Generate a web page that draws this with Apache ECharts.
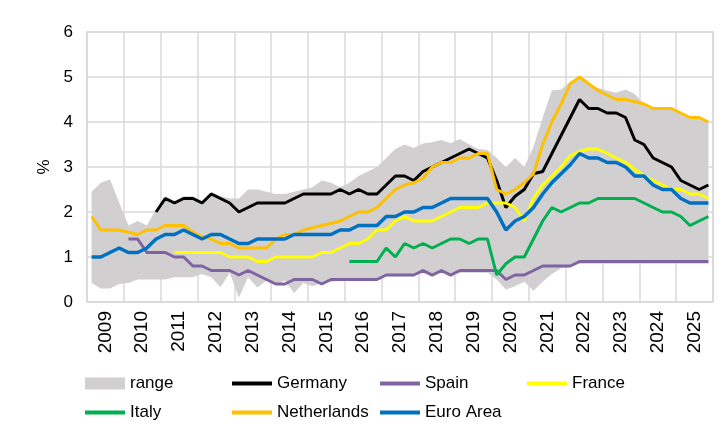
<!DOCTYPE html>
<html>
<head>
<meta charset="utf-8">
<script src="https://cdn.jsdelivr.net/npm/echarts@6/dist/echarts.min.js"></script>
<style>
html,body{margin:0;padding:0;background:#fff;}
#chart{width:721px;height:431px;}
</style>
</head>
<body>
<div id="chart"></div>
<script>
var years = ['2009','2010','2011','2012','2013','2014','2015','2016','2017','2018','2019','2020','2021','2022','2023','2024','2025'];
var quarters = [];
years.forEach(function(y){ ['Q1','Q2','Q3','Q4'].forEach(function(q){ quarters.push(y + q); }); });

var rangeLow = [
 0.42,0.30,0.30,0.40, 0.42,0.50,0.50,0.50, 0.50,0.55,0.55,0.55, 0.62,0.55,0.33,0.65,
 0.10,0.55,0.32,0.47, 0.38,0.48,0.20,0.42, 0.35,0.42,0.45,0.47, 0.47,0.47,0.47,0.47,
 0.57,0.57,0.57,0.57, 0.65,0.55,0.65,0.55, 0.65,0.65,0.65,0.65, 0.50,0.28,0.35,0.45,
 0.25,0.45,0.62,0.75, 0.78,0.85,0.85,0.85, 0.85,0.85,0.85,0.85, 0.85,0.85,0.85,0.85,
 0.85,0.85,0.85,0.85];
var rangeHigh = [
 2.45,2.65,2.73,2.20, 1.70,1.80,1.70,2.05, 2.35,2.25,2.35,2.35, 2.25,2.45,2.35,2.30,
 2.30,2.50,2.50,2.45, 2.40,2.40,2.45,2.50, 2.55,2.70,2.65,2.55, 2.65,2.80,2.90,3.00,
 3.20,3.40,3.50,3.42, 3.52,3.55,3.60,3.53, 3.62,3.50,3.40,3.38, 3.20,3.00,3.20,3.00,
 3.45,4.10,4.70,4.72, 4.90,5.00,4.82,4.76, 4.70,4.65,4.72,4.62, 4.40,4.30,4.30,4.30,
 4.20,4.10,4.10,4.00];
var germany = [
 null,null,null,null, null,null,null,2.0, 2.3,2.2,2.3,2.3, 2.2,2.4,2.3,2.2,
 2.0,2.1,2.2,2.2, 2.2,2.2,2.3,2.4, 2.4,2.4,2.4,2.5, 2.4,2.5,2.4,2.4,
 2.6,2.8,2.8,2.7, 2.9,3.0,3.1,3.2, 3.3,3.4,3.3,3.2, 2.7,2.1,2.35,2.5,
 2.85,2.9,3.3,3.7, 4.1,4.5,4.3,4.3, 4.2,4.2,4.1,3.6, 3.5,3.2,3.1,3.0,
 2.7,2.6,2.5,2.6];
var spain = [
 null,null,null,null, 1.4,1.4,1.1,1.1, 1.1,1.0,1.0,0.8, 0.8,0.7,0.7,0.7,
 0.6,0.7,0.6,0.5, 0.4,0.4,0.5,0.5, 0.5,0.4,0.5,0.5, 0.5,0.5,0.5,0.5,
 0.6,0.6,0.6,0.6, 0.7,0.6,0.7,0.6, 0.7,0.7,0.7,0.7, 0.7,0.5,0.6,0.6,
 0.7,0.8,0.8,0.8, 0.8,0.9,0.9,0.9, 0.9,0.9,0.9,0.9, 0.9,0.9,0.9,0.9,
 0.9,0.9,0.9,0.9];
var france = [
 null,null,null,null, null,null,null,null, null,1.1,1.1,1.1, 1.1,1.1,1.1,1.0,
 1.0,1.0,0.9,0.9, 1.0,1.0,1.0,1.0, 1.0,1.1,1.1,1.2, 1.3,1.3,1.4,1.6,
 1.6,1.8,1.9,1.8, 1.8,1.8,1.9,2.0, 2.1,2.1,2.1,2.2, 2.2,2.2,2.1,1.8,
 2.3,2.6,2.8,3.0, 3.25,3.35,3.4,3.4, 3.3,3.2,3.1,2.95, 2.8,2.7,2.6,2.5,
 2.5,2.4,2.4,2.3];
var italy = [
 null,null,null,null, null,null,null,null, null,null,null,null, null,null,null,null,
 null,null,null,null, null,null,null,null, null,null,null,null, 0.9,0.9,0.9,0.9,
 1.2,1.0,1.3,1.2, 1.3,1.2,1.3,1.4, 1.4,1.3,1.4,1.4, 0.6,0.85,1.0,1.0,
 1.4,1.8,2.1,2.0, 2.1,2.2,2.2,2.3, 2.3,2.3,2.3,2.3, 2.2,2.1,2.0,2.0,
 1.9,1.7,1.8,1.9];
var netherlands = [
 1.9,1.6,1.6,1.6, 1.55,1.5,1.6,1.6, 1.7,1.7,1.7,1.55, 1.45,1.4,1.3,1.3,
 1.2,1.2,1.2,1.2, 1.4,1.5,1.5,1.6, 1.65,1.7,1.75,1.8, 1.9,2.0,2.0,2.1,
 2.3,2.5,2.6,2.65, 2.75,3.0,3.1,3.1, 3.2,3.2,3.3,3.3, 2.5,2.4,2.5,2.65,
 2.85,3.5,4.0,4.4, 4.85,5.0,4.85,4.7, 4.6,4.5,4.5,4.45, 4.4,4.3,4.3,4.3,
 4.2,4.1,4.1,4.0];
var euroArea = [
 1.0,1.0,1.1,1.2, 1.1,1.1,1.2,1.4, 1.5,1.5,1.6,1.5, 1.4,1.5,1.5,1.4,
 1.3,1.3,1.4,1.4, 1.4,1.4,1.5,1.5, 1.5,1.5,1.5,1.6, 1.6,1.7,1.7,1.7,
 1.9,1.9,2.0,2.0, 2.1,2.1,2.2,2.3, 2.3,2.3,2.3,2.3, 2.0,1.6,1.8,1.9,
 2.1,2.4,2.65,2.85, 3.05,3.3,3.2,3.2, 3.1,3.1,3.0,2.8, 2.8,2.6,2.5,2.5,
 2.3,2.2,2.2,2.2];

var rangeSpan = rangeHigh.map(function(v, i){ return +(v - rangeLow[i]).toFixed(3); });

var FONT = 'Liberation Sans';
var chart = echarts.init(document.getElementById('chart'));

function lineSeries(name, data, color, width){
  return {
    name: name, type: 'line', data: data, xAxisIndex: 1, symbol: 'none',
    lineStyle: {color: color, width: width}, itemStyle: {color: color},
    connectNulls: false, animation: false
  };
}
function legendAt(name, left, top, isRect){
  return {
    data: [name], left: left, top: top, padding: 0, itemGap: 0,
    icon: 'rect',
    itemWidth: 40, itemHeight: isRect ? 12 : 4,
    itemStyle: isRect ? {color: '#d1cfd0', borderWidth: 0} : {borderWidth: 0},
    textStyle: {fontFamily: FONT, fontSize: 17, color: '#000'},
    selectedMode: false
  };
}

chart.setOption({
  animation: false,
  textStyle: {fontFamily: FONT},
  grid: {left: 87, right: 8, top: 32, bottom: 129, show: true, borderColor: '#d9d9d9', borderWidth: 1.5, containLabel: false},
  legend: [
    legendAt('range', 85, 375, true),
    legendAt('Germany', 232, 375),
    legendAt('Spain', 380, 375),
    legendAt('France', 527, 375),
    legendAt('Italy', 85, 404),
    legendAt('Netherlands', 232, 404),
    legendAt('Euro Area', 380, 404)
  ],
  xAxis: [
    {
      type: 'category', data: years, boundaryGap: true, position: 'bottom',
      axisLine: {show: false}, axisTick: {show: false},
      axisLabel: {interval: 0, rotate: 90, fontSize: 19, color: '#000', margin: 9, fontFamily: FONT},
      splitLine: {show: true, interval: 0, lineStyle: {color: '#d9d9d9', width: 1.5}}
    },
    {
      type: 'category', data: quarters, boundaryGap: true, show: false
    }
  ],
  yAxis: {
    type: 'value', min: 0, max: 6, interval: 1,
    name: '%', nameLocation: 'middle', nameGap: 34, nameRotate: 90,
    nameTextStyle: {fontSize: 17, color: '#000', fontFamily: FONT},
    axisLine: {show: false}, axisTick: {show: false},
    axisLabel: {fontSize: 17, color: '#000', margin: 14, fontFamily: FONT},
    splitLine: {show: true, lineStyle: {color: '#d9d9d9', width: 1.5}}
  },
  series: [
    {
      name: 'rangeBase', type: 'line', data: rangeLow, xAxisIndex: 1, stack: 'r', symbol: 'none',
      lineStyle: {width: 0, opacity: 0}, areaStyle: {opacity: 0}, silent: true
    },
    {
      name: 'range', type: 'line', data: rangeSpan, xAxisIndex: 1, stack: 'r', symbol: 'none',
      lineStyle: {width: 0, opacity: 0}, itemStyle: {color: '#d1cfd0'},
      areaStyle: {color: '#d1cfd0', opacity: 1}
    },
    lineSeries('Germany', germany, '#000000', 3),
    lineSeries('Spain', spain, '#8064a2', 3),
    lineSeries('France', france, '#ffff00', 3),
    lineSeries('Italy', italy, '#00b050', 3),
    lineSeries('Netherlands', netherlands, '#ffc000', 3),
    lineSeries('Euro Area', euroArea, '#0070c0', 3.5)
  ]
});
</script>
</body>
</html>
